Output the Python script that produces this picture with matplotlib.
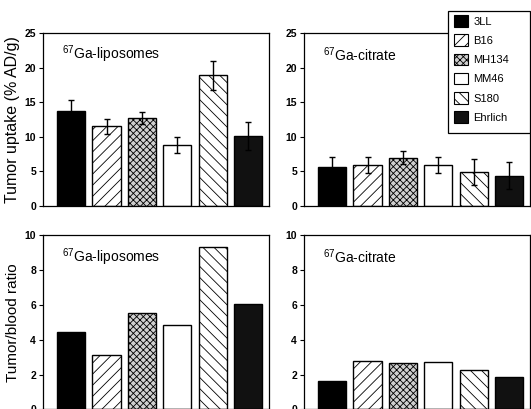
import matplotlib
matplotlib.use("Agg")
from matplotlib import pyplot as plt
from matplotlib.patches import Patch, Rectangle

plt.rcParams['font.family'] = ['Liberation Sans', 'DejaVu Sans']
plt.rcParams['mathtext.fontset'] = 'custom'
plt.rcParams['mathtext.rm'] = 'Liberation Sans'
plt.rcParams['mathtext.default'] = 'regular'
plt.rcParams['hatch.linewidth'] = 0.6

tumors = ["3LL", "B16", "MH134", "MM46", "S180", "Ehrlich"]

uptake_lipo = [13.8, 11.5, 12.7, 8.8, 18.9, 10.1]
uptake_lipo_err = [1.5, 1.1, 0.9, 1.2, 2.1, 2.0]
uptake_citr = [5.7, 5.9, 7.0, 5.9, 4.9, 4.4]
uptake_citr_err = [1.4, 1.2, 0.9, 1.2, 1.9, 1.9]
ratio_lipo = [4.45, 3.1, 5.55, 4.85, 9.3, 6.05]
ratio_citr = [1.65, 2.78, 2.65, 2.75, 2.28, 1.88]

faces = ["black", "white", "#cfcfcf", "white", "white", "#111111"]
hatches = [None, "///", "xxxxx", None, "\\\\\\", None]

W, H = 531, 409
fig = plt.figure(figsize=(W / 100, H / 100), dpi=100)

def box(x0, y_top, x1, y_bot):
    return [x0 / W, 1 - y_bot / H, (x1 - x0) / W, (y_bot - y_top) / H]

ax_tl = fig.add_axes(box(43, 33, 269, 206))
ax_tr = fig.add_axes(box(304, 33, 530, 206))
ax_bl = fig.add_axes(box(43, 235, 269, 409.5))
ax_br = fig.add_axes(box(304, 235, 530, 409.5))

xs = list(range(len(tumors)))

def draw(ax, vals, err, ymax, step, label):
    ax.bar(xs, vals, width=0.79, color=faces, edgecolor="black",
           linewidth=1.0, hatch=hatches, zorder=2)
    if err is not None:
        ax.errorbar(xs, vals, yerr=err, fmt="none", ecolor="black",
                    elinewidth=1.0, capsize=2, capthick=1.0, zorder=3)
    ax.set_xlim(-0.79, 5.58)
    ax.set_ylim(0, ymax)
    ax.set_yticks(range(0, ymax + 1, step))
    ax.set_xticks([])
    ax.tick_params(axis="y", length=3, width=0.8, pad=2, labelsize=7.5)
    for t in ax.get_yticklabels():
        t.set_fontweight("bold")
    for s in ax.spines.values():
        s.set_linewidth(0.9)
    ax.text(0.084, 0.875, label, transform=ax.transAxes, fontsize=10,
            va="center", ha="left")

draw(ax_tl, uptake_lipo, uptake_lipo_err, 25, 5, "$^{67}$Ga-liposomes")
draw(ax_tr, uptake_citr, uptake_citr_err, 25, 5, "$^{67}$Ga-citrate")
draw(ax_bl, ratio_lipo, None, 10, 2, "$^{67}$Ga-liposomes")
draw(ax_br, ratio_citr, None, 10, 2, "$^{67}$Ga-citrate")

ax_tl.set_ylabel("Tumor uptake (% AD/g)", fontsize=11.5, labelpad=3)
ax_bl.set_ylabel("Tumor/blood ratio", fontsize=11, labelpad=3)

# legend box drawn by hand so it matches the wide frame of the original
fig.add_artist(Rectangle((448 / W, 1 - 133 / H), 82 / W, 122 / H,
                         transform=fig.transFigure, facecolor="white",
                         edgecolor="black", linewidth=0.9, zorder=9))
handles = [Patch(facecolor=f, edgecolor="black", hatch=h, linewidth=0.8)
           for f, h in zip(faces, hatches)]
leg = fig.legend(handles, tumors, loc="upper left",
                 bbox_to_anchor=(452 / W, 1 - 13 / H),
                 prop={"size": 8}, frameon=False,
                 handlelength=1.2, handleheight=1.2,
                 handletextpad=0.5, labelspacing=0.7, borderpad=0.2,
                 borderaxespad=0)
leg.set_zorder(10)

fig.savefig("out.png", dpi=100)
